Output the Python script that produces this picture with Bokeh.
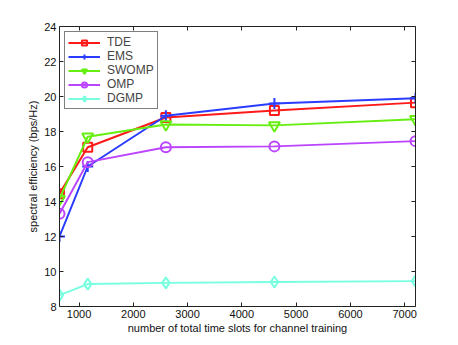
from bokeh.plotting import figure
from bokeh.models import LinearAxis, FixedTicker, Range1d, Legend, LegendItem
from bokeh.embed import file_html
from bokeh.resources import INLINE

x_slots = [640, 1160, 2600, 4600, 7200]
tde = [14.45, 17.1, 18.8, 19.2, 19.65]
ems = [12.0, 16.0, 18.9, 19.6, 19.9]
swomp = [14.15, 17.7, 18.4, 18.35, 18.7]
omp = [13.3, 16.25, 17.1, 17.15, 17.45]
dgmp = [8.65, 9.28, 9.35, 9.4, 9.45]

series_names = ["TDE", "EMS", "SWOMP", "OMP", "DGMP"]
x_ticks = [1000, 2000, 3000, 4000, 5000, 6000, 7000]
y_ticks = [8, 10, 12, 14, 16, 18, 20, 22, 24]

FONT = "Liberation Sans"

p = figure(width=450, height=337, output_backend="svg", toolbar_location=None,
           x_range=Range1d(640, 7200), y_range=Range1d(8, 24),
           min_border_left=59, min_border_right=35, min_border_top=26, min_border_bottom=31)
p.xgrid.visible = False
p.ygrid.visible = False
p.outline_line_color = None

styles = [
    ("#ff1a1a", "square", 9),
    ("#2a3cff", "cross", 11),
    ("#66ee11", "inverted_triangle", 11),
    ("#bb44ff", "circle", 10),
    ("#77ffe0", "diamond", 11),
]
data = [tde, ems, swomp, omp, dgmp]
items = []
for name, ys, (c, m, s) in zip(series_names, data, styles):
    ln = p.line(x_slots, ys, line_color=c, line_width=2)
    sc = p.scatter(x_slots, ys, marker=m, size=s,
                   line_color=c, fill_color=None, line_width=2)
    items.append(LegendItem(label=name, renderers=[ln, sc]))

leg = Legend(items=items, location="top_left", margin=5)
leg.border_line_color = "black"
leg.border_line_width = 1
leg.label_text_font = FONT
leg.label_text_font_size = "12px"
leg.glyph_height = 13
leg.label_height = 13
leg.glyph_width = 32
leg.spacing = 0
leg.padding = 3
leg.label_standoff = 7
leg.background_fill_alpha = 1
p.add_layout(leg)

def style_axis(ax, labels=True):
    ax.axis_line_color = "#222222"
    ax.major_tick_line_color = "#222222"
    ax.major_tick_in = 4
    ax.major_tick_out = 0
    ax.minor_tick_line_color = None
    ax.major_label_text_font = FONT
    ax.major_label_text_font_size = "11px"
    ax.major_label_text_color = "#111111"
    ax.axis_label_text_font = FONT
    ax.axis_label_text_font_size = "11px"
    ax.axis_label_text_font_style = "normal"
    ax.axis_label_text_color = "#111111"
    if not labels:
        ax.major_label_text_font_size = "0px"
        ax.major_label_text_alpha = 0

p.xaxis.ticker = FixedTicker(ticks=x_ticks)
p.yaxis.ticker = FixedTicker(ticks=y_ticks)
p.xaxis.axis_label = "number of total time slots for channel training"
p.yaxis.axis_label = "spectral efficiency (bps/Hz)"
for ax in p.xaxis + p.yaxis:
    style_axis(ax)
p.xaxis.major_label_standoff = 3
p.yaxis.major_label_standoff = 3
p.xaxis.axis_label_standoff = 1
p.yaxis.axis_label_standoff = 2

top = LinearAxis(ticker=FixedTicker(ticks=x_ticks))
style_axis(top, labels=False)
p.add_layout(top, "above")
right = LinearAxis(ticker=FixedTicker(ticks=y_ticks))
style_axis(right, labels=False)
p.add_layout(right, "right")

open("out.html", "w").write(file_html(p, INLINE))
